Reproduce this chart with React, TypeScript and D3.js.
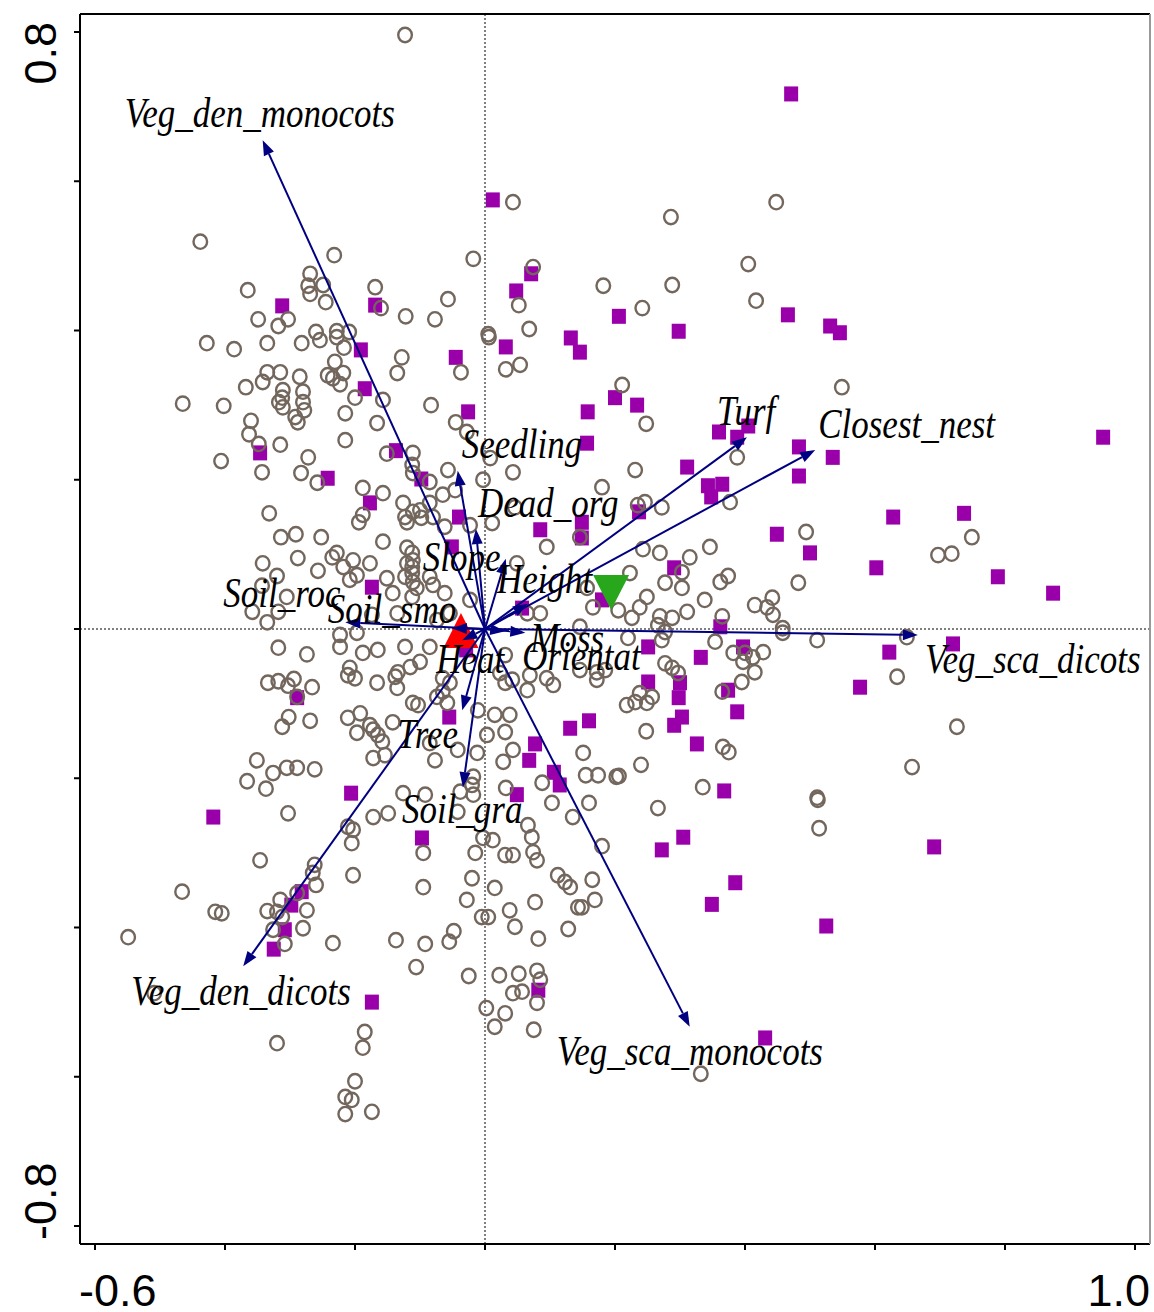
import React from "react";
import * as d3 from "d3";

// ---- axis ticks and end labels ----
const xTicks = [-0.6, -0.4, -0.2, 0, 0.2, 0.4, 0.6, 0.8, 1.0];
const yTicks = [-0.8, -0.6, -0.4, -0.2, 0, 0.2, 0.4, 0.6, 0.8];
const xEndLabels = ["-0.6", "1.0"];
const yEndLabels = ["-0.8", "0.8"];

// ---- site scores (axis 1, axis 2): sites without nests ----
const openSites: [number, number][] = [
  [-0.123,0.796],[-0.438,0.519],[-0.232,0.501],[-0.018,0.496],[0.043,0.572],[0.074,0.485],[-0.365,0.454],[-0.269,0.476],[-0.272,0.460],[-0.249,0.461],[-0.269,0.449],[-0.169,0.458],[-0.160,0.430],[-0.245,0.438],[-0.057,0.442],[0.182,0.460],[0.052,0.434],[-0.349,0.415],[-0.303,0.415],[-0.318,0.406],[-0.122,0.419],[-0.077,0.415],[-0.260,0.398],[-0.228,0.399],[-0.209,0.398],[0.005,0.395],[0.068,0.402],[0.286,0.552],[0.448,0.572],[0.405,0.489],[0.288,0.461],[0.417,0.440],[0.242,0.430],
  [-0.428,0.383],[-0.386,0.375],[-0.335,0.383],[-0.282,0.383],[-0.254,0.387],[-0.335,0.344],[-0.342,0.331],[-0.315,0.344],[-0.368,0.324],[-0.285,0.338],[-0.311,0.320],[-0.312,0.310],[-0.317,0.304],[-0.311,0.297],[-0.280,0.318],[-0.280,0.304],[-0.278,0.293],[-0.292,0.284],[-0.288,0.277],[-0.465,0.302],[-0.402,0.299],[-0.360,0.279],[-0.363,0.261],[-0.348,0.248],[-0.315,0.247],[-0.406,0.225],[-0.343,0.210],[-0.272,0.230],[-0.283,0.209],[-0.258,0.196],[-0.242,0.340],[-0.332,0.155],[-0.314,0.123],[-0.291,0.127],[-0.252,0.123],[-0.342,0.088],[-0.288,0.095],[-0.257,0.078],[-0.320,0.071],[-0.343,0.058],[-0.305,0.043],[-0.358,0.023],[-0.318,0.023],[-0.335,0.009],[-0.235,0.096],
  [-0.228,0.391],[-0.217,0.377],[-0.231,0.358],[-0.218,0.343],[-0.234,0.336],[-0.223,0.328],[-0.128,0.364],[-0.135,0.343],[-0.037,0.344],[0.006,0.391],[0.032,0.348],[0.054,0.354],[-0.200,0.310],[-0.157,0.307],[-0.215,0.289],[-0.166,0.276],[-0.083,0.300],[-0.045,0.277],[-0.028,0.264],[-0.215,0.253],[-0.151,0.235],[-0.111,0.236],[-0.112,0.220],[-0.111,0.209],[-0.085,0.197],[-0.057,0.213],[-0.003,0.200],[0.008,0.229],[0.043,0.210],[-0.188,0.189],[-0.157,0.182],[-0.065,0.180],[-0.046,0.186],[-0.188,0.153],[-0.194,0.143],[-0.126,0.169],[-0.123,0.150],[-0.111,0.157],[-0.100,0.159],[-0.085,0.169],[-0.120,0.143],[-0.080,0.150],[-0.098,0.149],[-0.062,0.137],[-0.023,0.139],[0.011,0.142],[0.046,0.163],[-0.157,0.117],[-0.120,0.109],[-0.112,0.102],[-0.111,0.092],[-0.112,0.083],[-0.112,0.075],[-0.111,0.063],[-0.105,0.055],[-0.120,0.088],[-0.123,0.070],[-0.085,0.070],[-0.080,0.059],[-0.228,0.102],[-0.203,0.092],[-0.218,0.083],[-0.177,0.088],[-0.197,0.072],[-0.208,0.066],[-0.151,0.068],[-0.142,0.048],[-0.062,0.048],[-0.023,0.039],[-0.054,0.021],[-0.074,0.012],[-0.174,0.019],[-0.112,0.043],[-0.135,0.021],[0.065,0.021],[0.085,0.021],[0.049,0.088],[0.095,0.110],
  [0.211,0.327],[0.248,0.275],[0.231,0.213],[0.180,0.190],[0.388,0.230],[0.246,0.170],[0.235,0.166],[0.272,0.163],[0.377,0.170],[0.146,0.123],[0.243,0.107],[0.269,0.102],[0.315,0.096],[0.346,0.110],[0.303,0.076],[0.223,0.075],[0.277,0.062],[0.303,0.055],[0.362,0.063],[0.374,0.071],[0.249,0.043],[0.238,0.029],[0.205,0.025],[0.226,0.015],[0.269,0.017],[0.288,0.015],[0.311,0.023],[0.338,0.039],[0.365,0.017],[0.415,0.032],[0.442,0.042],[0.434,0.029],[0.443,0.019],[0.482,0.062],[0.494,0.130],[0.157,0.055],[0.166,0.029],[0.146,0.003],[0.458,0.001],[0.266,0.005],
  [0.549,0.324],[0.749,0.123],[0.697,0.099],[0.718,0.101],
  [-0.318,-0.025],[-0.274,-0.034],[-0.334,-0.072],[-0.318,-0.070],[-0.294,-0.067],[-0.303,-0.076],[-0.266,-0.078],[-0.289,-0.091],[-0.302,-0.118],[-0.312,-0.131],[-0.269,-0.123],[-0.351,-0.176],[-0.366,-0.204],[-0.326,-0.193],[-0.337,-0.214],[-0.305,-0.186],[-0.289,-0.186],[-0.262,-0.188],[-0.303,-0.247],[-0.346,-0.310],[-0.466,-0.352],[-0.415,-0.379],[-0.405,-0.381],[-0.335,-0.378],[-0.315,-0.363],[-0.320,-0.379],[-0.312,-0.386],[-0.274,-0.377],[-0.262,-0.316],[-0.265,-0.327],[-0.260,-0.343],[-0.289,-0.354],[-0.280,-0.401],
  [-0.549,-0.413],[-0.509,-0.488],[-0.326,-0.403],[-0.308,-0.422],[-0.234,-0.421],[-0.137,-0.417],[-0.092,-0.422],[-0.055,-0.419],[-0.048,-0.405],[-0.106,-0.453],[-0.025,-0.465],[0.022,-0.464],[0.052,-0.462],[0.080,-0.458],[0.085,-0.470],[0.043,-0.488],[0.057,-0.486],[0.080,-0.501],[0.002,-0.508],[0.031,-0.515],[0.015,-0.533],[0.075,-0.537],[0.046,-0.399],[0.128,-0.402],[0.082,-0.415],[-0.320,-0.555],[-0.185,-0.540],[-0.188,-0.561],[-0.200,-0.606],[-0.215,-0.627],[-0.205,-0.631],[-0.215,-0.650],[-0.174,-0.647],[0.332,-0.596],
  [-0.223,-0.008],[-0.197,-0.005],[-0.223,-0.024],[-0.188,-0.032],[-0.165,-0.028],[-0.085,-0.024],[-0.123,-0.024],[-0.208,-0.052],[-0.200,-0.066],[-0.211,-0.062],[-0.166,-0.072],[-0.138,-0.064],[-0.135,-0.079],[-0.115,-0.051],[-0.100,-0.044],[-0.134,-0.058],[-0.111,-0.099],[-0.103,-0.102],[-0.074,-0.091],[-0.065,-0.084],[-0.058,-0.099],[-0.054,-0.072],[-0.065,-0.066],[0.031,-0.035],[0.023,-0.059],[0.031,-0.072],[0.042,-0.068],[0.069,-0.062],[0.095,-0.066],[0.105,-0.075],[0.065,-0.082],[-0.011,-0.109],[0.015,-0.115],[0.038,-0.115],[0.031,-0.138],[0.003,-0.142],[-0.211,-0.119],[-0.192,-0.113],[-0.197,-0.139],[-0.177,-0.129],[-0.172,-0.135],[-0.165,-0.142],[-0.158,-0.151],[-0.142,-0.125],[-0.172,-0.173],[-0.154,-0.169],[-0.085,-0.153],[-0.077,-0.176],[-0.042,-0.162],[-0.012,-0.166],[0.028,-0.178],[0.043,-0.162],[-0.018,-0.198],[-0.020,-0.209],[-0.018,-0.222],[-0.038,-0.218],[0.088,-0.206],[0.103,-0.233],[0.032,-0.213],[-0.126,-0.220],[-0.092,-0.222],[-0.172,-0.252],[-0.149,-0.247],[-0.211,-0.265],[-0.203,-0.269],[-0.205,-0.287],[-0.095,-0.300],[-0.042,-0.245],[-0.003,-0.280],[-0.015,-0.300],[0.012,-0.283],[0.031,-0.303],[0.043,-0.303],[0.074,-0.299],[0.080,-0.310],[0.066,-0.263],[0.072,-0.279],[-0.203,-0.330],[-0.095,-0.346],[-0.020,-0.334],[0.015,-0.347],[-0.028,-0.363],[0.038,-0.377],[-0.005,-0.386],[0.005,-0.386],[0.112,-0.330],[0.123,-0.339],[0.131,-0.346],[0.077,-0.366],[0.135,-0.252],[0.143,-0.373],
  [0.220,-0.012],[0.272,-0.015],[0.277,-0.004],[0.354,-0.017],[0.458,-0.005],[0.511,-0.015],[0.382,-0.032],[0.400,-0.032],[0.412,-0.038],[0.428,-0.031],[0.397,-0.044],[0.415,-0.058],[0.395,-0.071],[0.365,-0.084],[0.277,-0.046],[0.288,-0.052],[0.297,-0.059],[0.172,-0.058],[0.172,-0.068],[0.185,-0.055],[0.146,-0.055],[0.238,-0.086],[0.257,-0.091],[0.249,-0.099],[0.231,-0.098],[0.218,-0.102],[0.248,-0.137],[0.151,-0.166],[0.155,-0.196],[0.174,-0.196],[0.202,-0.198],[0.206,-0.197],[0.240,-0.182],[0.160,-0.233],[0.266,-0.240],[0.335,-0.212],[0.366,-0.158],[0.375,-0.165],[0.180,-0.291],[0.165,-0.336],[0.169,-0.363],[0.149,-0.373],[0.511,-0.226],[0.512,-0.229],[0.514,-0.267],
  [0.649,-0.011],[0.634,-0.064],[0.726,-0.131],[0.657,-0.185],
];

// ---- site scores: nest sites ----
const nestSites: [number, number][] = [
  [0.471,0.717],[0.012,0.575],[0.071,0.476],[0.048,0.453],[-0.312,0.433],[-0.169,0.434],[0.206,0.419],[0.298,0.399],[0.466,0.421],[0.531,0.406],[0.546,0.397],[0.132,0.390],[0.146,0.371],[0.032,0.378],[-0.191,0.374],[-0.045,0.364],[-0.185,0.322],[0.200,0.310],[0.158,0.291],[0.234,0.300],[-0.026,0.291],[0.360,0.264],[0.388,0.257],[0.405,0.272],[0.157,0.249],[0.483,0.244],[0.483,0.205],[0.535,0.230],[-0.137,0.239],[-0.346,0.236],[0.311,0.217],[-0.242,0.202],[-0.098,0.201],[0.343,0.192],[0.365,0.194],[0.348,0.177],[-0.177,0.169],[0.149,0.143],[0.149,0.122],[0.237,0.157],[0.085,0.133],[-0.040,0.150],[-0.051,0.110],[0.628,0.150],[0.737,0.155],[0.449,0.127],[0.500,0.102],[0.602,0.082],[0.789,0.070],[0.874,0.048],[0.951,0.257],[0.291,0.082],[0.180,0.039],[-0.174,0.056],[0.057,0.028],[0.362,0.003],[-0.029,-0.028],[0.251,-0.024],[0.332,-0.038],[0.397,-0.024],[0.251,-0.071],[0.300,-0.072],[0.298,-0.092],[0.374,-0.082],[0.303,-0.118],[0.291,-0.129],[0.388,-0.111],[0.160,-0.123],[0.131,-0.133],[0.326,-0.154],[0.368,-0.217],[0.305,-0.279],[0.272,-0.296],[0.385,-0.340],[0.349,-0.369],[0.525,-0.398],[0.431,-0.548],[0.691,-0.292],[0.577,-0.078],[0.622,-0.031],[0.720,-0.020],[-0.289,-0.092],[-0.418,-0.252],[-0.282,-0.352],[-0.298,-0.370],[-0.308,-0.403],[-0.325,-0.429],[-0.174,-0.500],[0.082,-0.484],[-0.055,-0.118],[-0.206,-0.220],[0.049,-0.222],[-0.097,-0.280],[0.077,-0.154],[0.068,-0.176],[0.106,-0.192],[0.115,-0.209],
];

// ---- environmental variables (biplot arrows) ----
const envNames = ["Veg_den_monocots","Veg_den_dicots","Veg_sca_monocots","Veg_sca_dicots","Closest_nest","Turf","Seedling","Dead_org","Slope","Height","Soil_roc","Soil_smo","Heat","Moss","Orientat","Tree","Soil_gra"];
const envX = [-0.342,-0.372,0.315,0.666,0.508,0.403,-0.042,-0.014,0.032,0.066,-0.215,-0.051,-0.035,0.062,0.031,-0.035,-0.034];
const envY = [0.655,-0.452,-0.533,-0.008,0.240,0.257,0.212,0.134,0.094,0.034,0.009,0.001,-0.015,-0.005,-0.003,-0.109,-0.212];

// ---- group centroids ----
const centroidNames = ["without nest", "nest"];
const centroidX = [-0.037, 0.194];
const centroidY = [-0.002, 0.049];

// label placement relative to the arrow tip (px)
const labelOffset: Record<string, [number, number]> = {
  Veg_den_monocots: [-138, -13],
  Veg_den_dicots: [-112, 39],
  Veg_sca_monocots: [-133, 38],
  Veg_sca_dicots: [7, 38],
  Closest_nest: [3, -12],
  Turf: [-30, -12],
  Seedling: [4, -13],
  Dead_org: [2, -12],
  Slope: [-83, 12],
  Height: [-31, -11],
  Soil_roc: [-122, -15],
  Soil_smo: [-124, -5],
  Heat: [-26, 33],
  Moss: [5, 19],
  Orientat: [17, 39],
  Tree: [-65, 38],
  Soil_gra: [-61, 36],
};

const FRAME = { left: 80, right: 1150, top: 14, bottom: 1244 };

export default function App() {
  const x = d3.scaleLinear().domain([-0.6, 1.0]).range([95, 1135]);
  const y = d3.scaleLinear().domain([-0.8, 0.8]).range([1226, 32]);
  const ox = x(0);
  const oy = y(0);

  const serif = "'Liberation Serif', 'Times New Roman', serif";
  const sans = "'Liberation Sans', Arial, sans-serif";
  const navy = "#000080";

  const arrows = envNames.map((name, i) => {
    const tx = x(envX[i]);
    const ty = y(envY[i]);
    const ang = Math.atan2(ty - oy, tx - ox);
    const L = 15;
    const hw = 5.5;
    const bx = tx - L * Math.cos(ang);
    const by = ty - L * Math.sin(ang);
    const px = -Math.sin(ang) * hw;
    const py = Math.cos(ang) * hw;
    const head = `M${tx},${ty}L${bx + px},${by + py}L${bx - px},${by - py}Z`;
    return { name, tx, ty, bx, by, head };
  });

  return (
    <svg
      width={1154}
      height={1312}
      style={{ position: "absolute", left: 0, top: 0, background: "#fff" }}
    >
      <rect x={0} y={0} width={1154} height={1312} fill="#fff" />
      {/* zero reference lines */}
      <line x1={ox} x2={ox} y1={FRAME.top} y2={FRAME.bottom} stroke="#000" strokeWidth={1} strokeDasharray="2,2" />
      <line x1={FRAME.left} x2={FRAME.right} y1={oy} y2={oy} stroke="#000" strokeWidth={1} strokeDasharray="2,2" />

      {/* nest sites */}
      {nestSites.map(([vx, vy], i) => (
        <rect key={"n" + i} x={x(vx) - 7} y={y(vy) - 7.5} width={14} height={15} fill="#9900aa" />
      ))}
      {/* other sites */}
      {openSites.map(([vx, vy], i) => (
        <ellipse key={"o" + i} cx={x(vx)} cy={y(vy)} rx={6.8} ry={7.2} fill="none" stroke="#73675d" strokeWidth={2.4} />
      ))}

      {/* group centroids */}
      {centroidNames.map((n, i) => {
        const cx = x(centroidX[i]);
        const cy = y(centroidY[i]);
        const d =
          i === 0
            ? `M${cx - 17.5},${cy + 17.5}L${cx + 17.5},${cy + 17.5}L${cx},${cy - 17.5}Z`
            : `M${cx - 18},${cy - 17.5}L${cx + 18},${cy - 17.5}L${cx},${cy + 17.5}Z`;
        return <path key={n} d={d} fill={i === 0 ? "#ff0000" : "#28a61c"} />;
      })}

      {/* environmental arrows */}
      {arrows.map((a) => (
        <g key={a.name}>
          <line x1={ox} y1={oy} x2={a.bx} y2={a.by} stroke={navy} strokeWidth={2} />
          <path d={a.head} fill={navy} />
        </g>
      ))}
      {arrows.map((a) => {
        const [dx, dy] = labelOffset[a.name];
        return (
          <text
            key={"t" + a.name}
            transform={`translate(${a.tx + dx},${a.ty + dy}) scale(1,1.2)`}
            fontFamily={serif}
            fontStyle="italic"
            fontSize={35}
            fill="#000"
          >
            {a.name}
          </text>
        );
      })}

      {/* frame */}
      <line x1={FRAME.left} x2={FRAME.right} y1={FRAME.top} y2={FRAME.top} stroke="#000" strokeWidth={2} />
      <line x1={FRAME.left} x2={FRAME.left} y1={FRAME.top} y2={FRAME.bottom} stroke="#000" strokeWidth={2} />
      <line x1={FRAME.left} x2={FRAME.right} y1={FRAME.bottom} y2={FRAME.bottom} stroke="#000" strokeWidth={2} />
      <line x1={FRAME.right} x2={FRAME.right} y1={FRAME.top} y2={FRAME.bottom} stroke="#999" strokeWidth={2} />

      {/* ticks */}
      {xTicks.map((t) => (
        <line key={"xt" + t} x1={x(t)} x2={x(t)} y1={FRAME.bottom} y2={FRAME.bottom + 6} stroke="#000" strokeWidth={2} />
      ))}
      {yTicks.map((t) => (
        <line key={"yt" + t} x1={FRAME.left - 6} x2={FRAME.left} y1={y(t)} y2={y(t)} stroke="#000" strokeWidth={2} />
      ))}

      {/* axis end labels */}
      <text x={79} y={1306} fontFamily={sans} fontSize={45} textAnchor="start">{xEndLabels[0]}</text>
      <text x={1150} y={1306} fontFamily={sans} fontSize={45} textAnchor="end">{xEndLabels[1]}</text>
      <text transform="translate(56,1240) rotate(-90)" fontFamily={sans} fontSize={45} textAnchor="start">{yEndLabels[0]}</text>
      <text transform="translate(56,22) rotate(-90)" fontFamily={sans} fontSize={45} textAnchor="end">{yEndLabels[1]}</text>
    </svg>
  );
}
